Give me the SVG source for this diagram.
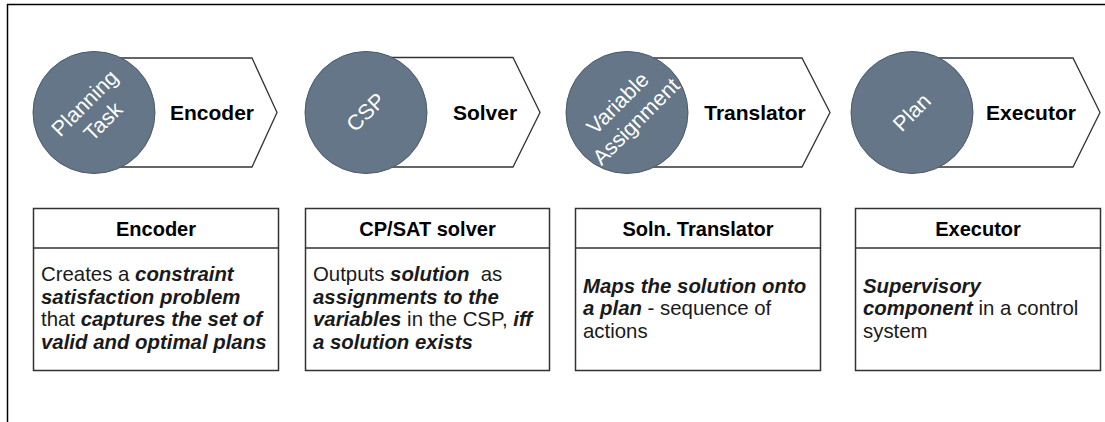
<svg xmlns="http://www.w3.org/2000/svg" width="1105" height="422" viewBox="0 0 1105 422">
<style>
.frame{stroke:#000;stroke-width:1.5;fill:none}
.arrow{fill:#fff;stroke:#333;stroke-width:1.3}
.disc{fill:#647687;stroke:#4a5a6a;stroke-width:1}
.disc-t{font-family:"Liberation Sans",Arial,sans-serif;font-size:21.5px;fill:#fff;text-anchor:middle;dominant-baseline:central}
.stage{font-family:"Liberation Sans",Arial,sans-serif;font-size:21px;font-weight:bold;fill:#000;text-anchor:middle}
.box{fill:#fff;stroke:#333;stroke-width:1.5}
.head{font-family:"Liberation Sans",Arial,sans-serif;font-size:20px;font-weight:bold;fill:#000;text-anchor:middle}
.body{font-family:"Liberation Sans",Arial,sans-serif;font-size:20.4px;fill:#1a1a1a;white-space:pre}
.bi{font-weight:bold;font-style:italic}
</style>
<g id="frame">
<line class="frame" x1="7" y1="4.5" x2="1105" y2="4.5"/>
<line class="frame" x1="7.5" y1="4" x2="7.5" y2="422"/>
</g>
<g id="connectors"/>
<g id="stage-encoder">
<polygon class="arrow" points="94,58 252,58 277,112.5 252,167 94,167"/>
<circle class="disc" cx="94" cy="112.5" r="61"/>
<g transform="translate(94,112.5) rotate(-45)">
<text class="disc-t" x="0" y="-13">Planning</text>
<text class="disc-t" x="0" y="13">Task</text>
</g>
<text class="stage" x="212" y="120">Encoder</text>
</g>
<g id="stage-solver">
<polygon class="arrow" points="366,57.5 513,57.5 540,112.5 513,167 366,167"/>
<circle class="disc" cx="366" cy="112.5" r="61"/>
<text class="disc-t" transform="translate(366,112.5) rotate(-45)" x="0" y="0">CSP</text>
<text class="stage" x="485" y="120">Solver</text>
</g>
<g id="stage-translator">
<polygon class="arrow" points="627,58 802,58 830,112.5 802,167 627,167"/>
<circle class="disc" cx="627" cy="112.5" r="61"/>
<g transform="translate(627,112.5) rotate(-45)">
<text class="disc-t" x="0" y="-13">Variable</text>
<text class="disc-t" x="0" y="13">Assignment</text>
</g>
<text class="stage" x="755" y="120">Translator</text>
</g>
<g id="stage-executor">
<polygon class="arrow" points="912,58 1073,58 1100,112.5 1073,167 912,167"/>
<circle class="disc" cx="912" cy="112.5" r="61"/>
<text class="disc-t" transform="translate(912,112.5) rotate(-45)" x="0" y="0">Plan</text>
<text class="stage" x="1031" y="120">Executor</text>
</g>
<g id="card-encoder">
<rect class="box" x="33.5" y="208.5" width="245" height="162"/>
<line class="box" x1="33.5" y1="248" x2="278.5" y2="248"/>
<text class="head" x="156" y="236">Encoder</text>
<text class="body" x="41" y="281">Creates a <tspan class="bi">constraint</tspan></text>
<text class="body bi" x="41" y="303.5">satisfaction problem</text>
<text class="body" x="41" y="326">that <tspan class="bi">captures the set of</tspan></text>
<text class="body bi" x="41" y="348.5">valid and optimal plans</text>
</g>
<g id="card-solver">
<rect class="box" x="305.5" y="208.5" width="244" height="162"/>
<line class="box" x1="305.5" y1="248" x2="549.5" y2="248"/>
<text class="head" x="427.5" y="236">CP/SAT solver</text>
<text class="body" x="313" y="281">Outputs <tspan class="bi">solution</tspan>  as</text>
<text class="body bi" x="313" y="303.5">assignments to the</text>
<text class="body" x="313" y="326"><tspan class="bi">variables</tspan> in the CSP, <tspan class="bi">iff</tspan></text>
<text class="body bi" x="313" y="348.5">a solution exists</text>
</g>
<g id="card-translator">
<rect class="box" x="575.5" y="208.5" width="245" height="162"/>
<line class="box" x1="575.5" y1="248" x2="820.5" y2="248"/>
<text class="head" x="698" y="236">Soln. Translator</text>
<text class="body bi" x="583" y="292.5">Maps the solution onto</text>
<text class="body" x="583" y="315"><tspan class="bi">a plan</tspan> - sequence of</text>
<text class="body" x="583" y="337.5">actions</text>
</g>
<g id="card-executor">
<rect class="box" x="855.5" y="208.5" width="245" height="162"/>
<line class="box" x1="855.5" y1="248" x2="1100.5" y2="248"/>
<text class="head" x="978" y="236">Executor</text>
<text class="body bi" x="863" y="292.5">Supervisory</text>
<text class="body" x="863" y="315"><tspan class="bi">component</tspan> in a control</text>
<text class="body" x="863" y="337.5">system</text>
</g>
</svg>
